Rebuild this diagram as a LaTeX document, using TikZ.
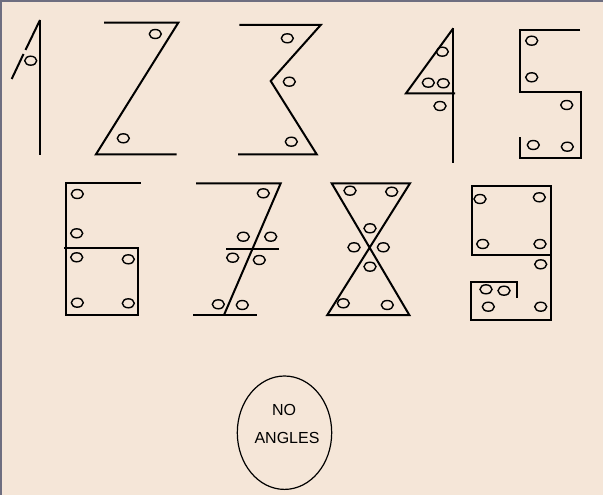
\documentclass[tikz,border=0pt]{standalone}
\usepackage{fontspec}
\setmainfont{Liberation Sans}
\definecolor{bg}{RGB}{245,230,216}
\definecolor{bar}{RGB}{110,110,128}
\begin{document}
\begin{tikzpicture}[x=1pt,y=-1pt,
  stroke/.style={line width=2pt,line cap=butt,line join=miter,black},
  hole/.style={line width=1.4pt,black},
  lbl/.style={font=\fontsize{16}{19}\selectfont,inner sep=0pt}]
\useasboundingbox (0,0) rectangle (603,495);
\fill[bg] (0,0) rectangle (603,495);
\fill[bar] (0,0) rectangle (603,2);
\fill[bar] (0,0) rectangle (1.5,495);
% digit 1
\draw[stroke] (40,20) -- (40,155);
\draw[stroke] (40,20) -- (25.5,50);
\draw[stroke] (23.5,54) -- (11.7,79);
% digit 2
\draw[stroke] (104,22.7) -- (178.3,22.7) -- (96,154.3) -- (176.7,154.3);
% digit 3
\draw[stroke] (239.3,25) -- (320.7,25) -- (270.7,81) -- (316.7,154.3) -- (238,154.3);
% digit 4
\draw[stroke] (453.3,28.3) -- (453.3,163.3);
\draw[stroke] (453.3,28.3) -- (406,93.3) -- (455,93.3);
% digit 5
\draw[stroke] (580,30) -- (520,30) -- (520,91.7) -- (580.7,91.7) -- (580.7,158.3) -- (520,158.3) -- (520,136.7);
% digit 6
\draw[stroke] (140.7,183.3) -- (66,183.3) -- (66,315) -- (138.3,315) -- (138.3,247.7) -- (64,247.7);
% digit 7
\draw[stroke] (196,183.3) -- (280.7,183.3) -- (224,315);
\draw[stroke] (193.3,315) -- (256.7,315);
\draw[stroke] (226,249) -- (279.3,249);
% digit 8
\draw[stroke] (331.7,183.3) -- (410,183.3) -- (327.3,315) -- (409.3,315) -- cycle;
% digit 9
\draw[stroke] (551.7,255) -- (471.7,255) -- (471.7,185.7) -- (550.7,185.7) -- (550.7,320) -- (470.7,320) -- (470.7,281.7) -- (516.7,281.7) -- (516.7,298.3);
% holes
\foreach \p in {(30.7,60.7),
  (155.3,34),(123.3,138.3),
  (287.3,38.3),(289.3,81.7),(291.3,141.7),
  (442.3,51.7),(428.3,82.7),(443.3,83.3),(440,106),
  (531.7,40.7),(531.7,77.3),(566.7,105),(533.3,145),(567.3,146.7),
  (77.3,194),(76.7,233.3),(76.7,257.3),(128.3,259.3),(77.3,302.7),(128.3,303.3),
  (263.3,193.3),(243.3,236.7),(270.7,236.7),(232.7,257.7),(259.3,260),(218.3,304.3),(242.3,305),
  (350,190.7),(391.7,191.7),(370,228.3),(354,247.3),(383.3,247.3),(370,266.7),(343.3,303.3),(387.3,305),
  (480,199),(539.3,197.3),(482.7,244),(540,244),(540.7,264.3),(486,289.3),(504,290.7),(488.3,306.7),(540.7,306.7)}
  \draw[hole] \p ellipse [x radius=6, y radius=4.5];
% no angles
\draw[line width=1.2pt] (284.5,432.7) ellipse [x radius=47.2, y radius=56.7];
\node[lbl] (no) at (284,410) {NO};
\node[lbl] (angles) at (287,438) {ANGLES};
\end{tikzpicture}
\end{document}
